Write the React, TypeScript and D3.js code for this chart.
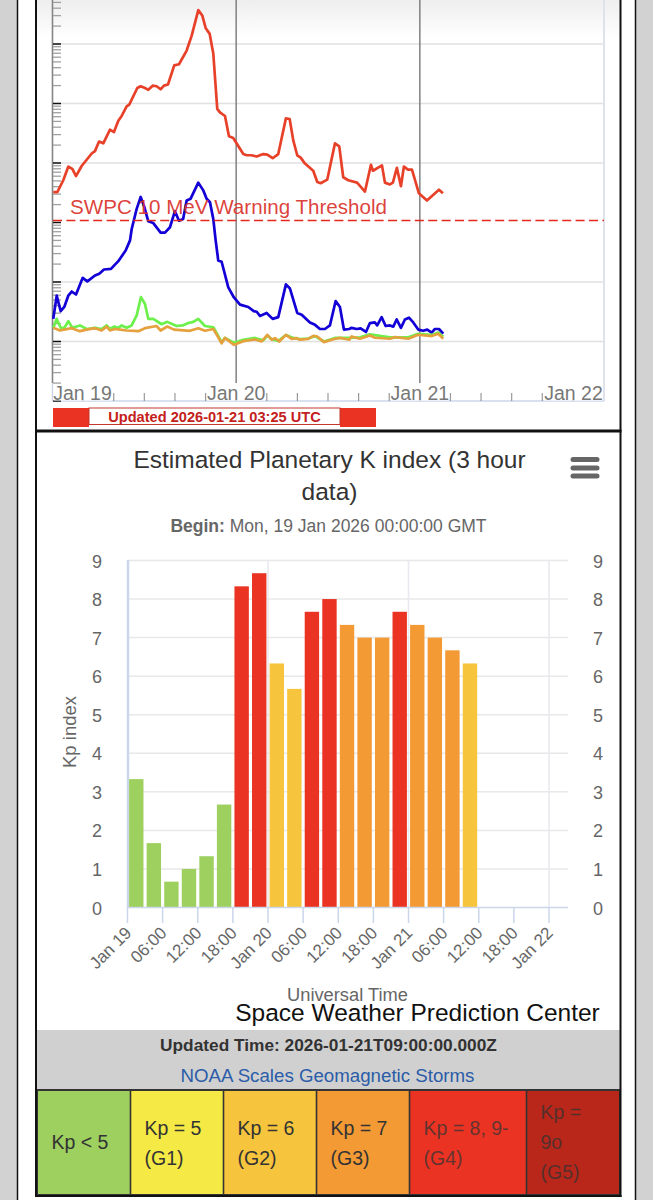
import React from "react";
import * as d3 from "d3";

// ---- Proton flux panel: hours since Jan 19 00:00 UTC, log10(pfu)
const redHours = [0.1,0.63,1.41,2.07,2.59,3.07,3.81,5.12,5.55,6.08,6.64,7.51,8.03,8.6,9.04,9.69,10.03,11.08,11.52,12.09,12.52,13.09,13.61,14.13,14.57,15.09,15.91,16.53,17.53,18.19,19.05,19.57,20.01,20.54,21.01,21.53,21.88,22.54,23.06,23.62,24.93,25.37,26.02,26.68,27.54,28.06,28.77,29.5,30.5,30.99,31.46,31.98,32.43,32.99,34.07,34.6,35.04,35.9,36.91,37.47,37.99,38.65,39.8,40.83,41.61,41.87,43.05,43.44,44.1,44.48,45.0,45.53,45.92,46.45,46.97,47.88,48.93,50.5,51.02];
const redLog = [1.51,1.51,1.71,1.94,1.9,1.78,1.95,2.16,2.2,2.36,2.33,2.56,2.52,2.71,2.79,2.95,2.98,3.26,3.29,3.26,3.23,3.3,3.29,3.24,3.3,3.32,3.64,3.66,3.89,4.14,4.57,4.48,4.27,4.17,3.84,2.91,2.85,2.79,2.45,2.42,2.15,2.13,2.13,2.11,2.15,2.14,2.08,2.15,2.75,2.74,2.38,2.13,2.09,1.99,1.87,1.68,1.66,1.72,2.33,2.28,1.76,1.71,1.67,1.52,1.97,1.87,1.96,1.67,1.64,1.67,1.92,1.61,1.94,1.89,1.89,1.49,1.37,1.55,1.49];

const blueHours = [0.1,0.55,1.07,1.54,2.06,2.51,3.07,3.95,4.55,5.55,6.11,6.73,7.64,8.6,9.56,10.13,10.35,11,11.52,12,12.52,13.17,14.13,14.7,15.35,16,16.53,17.07,17.53,18.05,19.05,19.7,20.14,20.58,21.01,21.32,21.66,22.1,22.97,23.71,24.5,25.58,26.3,26.68,27.11,27.98,28.77,29.5,30.5,31.03,31.98,32.56,33.64,34.3,34.95,35.6,36.25,37,37.56,38.08,38.77,39.09,39.74,40.26,40.96,41.48,42.13,42.43,43.01,43.53,44.1,44.53,44.97,45.53,46.05,46.58,47.14,47.79,48.44,48.97,49.54,49.97,50.5,51.06];
const blueLog = [-0.62,-0.23,-0.49,-0.42,-0.23,-0.16,-0.21,0.07,0.01,0.11,0.14,0.21,0.22,0.35,0.53,0.7,0.89,1.23,1.43,1.26,1.02,0.99,0.83,0.83,0.92,1.19,1.03,1.06,1.37,1.4,1.67,1.54,1.4,1.34,1.06,0.7,0.36,0.34,-0.09,-0.26,-0.38,-0.42,-0.49,-0.5,-0.57,-0.52,-0.62,-0.59,-0.04,-0.11,-0.52,-0.55,-0.68,-0.72,-0.79,-0.79,-0.73,-0.32,-0.42,-0.8,-0.79,-0.77,-0.79,-0.78,-0.84,-0.69,-0.68,-0.73,-0.59,-0.74,-0.73,-0.75,-0.63,-0.77,-0.63,-0.6,-0.68,-0.8,-0.82,-0.8,-0.85,-0.79,-0.79,-0.87];

const greenHours = [0.11,0.54,1.07,1.55,2.07,2.59,3.59,4.46,5.55,6.42,7.08,7.51,8.03,8.6,9.04,9.69,10.34,11,11.56,12.08,12.52,13.17,14.26,15,16.22,17,17.75,18.4,19.05,19.92,21.01,21.36,22.1,22.54,23.71,24.93,26.46,27.55,28.07,28.63,29.5,30.5,31.46,32.3,33.4,34.3,35.47,36.9,38.78,40.17,41.48,44.09,46.49,47.79,49.54,50.41,51.06];
const greenLog = [-0.77,-0.62,-0.77,-0.77,-0.66,-0.77,-0.73,-0.79,-0.77,-0.79,-0.73,-0.79,-0.75,-0.77,-0.73,-0.77,-0.73,-0.56,-0.255,-0.37,-0.62,-0.62,-0.71,-0.67,-0.74,-0.73,-0.69,-0.67,-0.62,-0.74,-0.76,-0.84,-1.01,-0.94,-1.02,-0.97,-0.94,-0.98,-0.9,-0.96,-0.99,-0.89,-0.94,-0.96,-0.95,-0.91,-1,-0.94,-0.94,-0.93,-0.88,-0.93,-0.93,-0.87,-0.89,-0.85,-0.92];

const orangeHours = [0.11,0.98,2.5,3.59,4.46,5.55,6.42,7.08,7.51,8.17,8.82,9.69,11.21,12.08,13.61,14.13,15,15.87,17.96,19.05,19.92,21.01,21.53,22.1,22.54,23.71,24.93,26.46,27.33,28.07,28.63,29.07,29.63,30.5,31.25,31.9,32.33,33.42,34.08,34.6,35.47,36.91,37.56,38.78,39.08,40.17,41.48,42.13,44.09,44.75,46.49,47.79,49.54,50.41,51.06];
const orangeLog = [-0.77,-0.815,-0.776,-0.826,-0.8,-0.776,-0.815,-0.75,-0.815,-0.79,-0.8,-0.815,-0.826,-0.776,-0.74,-0.815,-0.748,-0.8,-0.82,-0.776,-0.82,-0.79,-0.9,-1.03,-0.94,-1.056,-0.994,-0.966,-1,-0.888,-0.97,-0.944,-1,-0.888,-0.955,-0.944,-0.97,-0.955,-0.905,-0.916,-1.01,-0.955,-0.94,-0.97,-0.915,-0.954,-0.898,-0.937,-0.954,-0.926,-0.954,-0.887,-0.909,-0.87,-0.954];

const decades = [-2, -1, 0, 1, 2, 3, 4, 5];
const warningThreshold = 10.8;
const warningLabel = "SWPC 10 MeV Warning Threshold";
const protonDays = ["Jan 19", "Jan 20", "Jan 21", "Jan 22"];
const updatedLabel = "Updated 2026-01-21 03:25 UTC";

// ---- Kp panel
const kpValues = [3.33,1.67,0.67,1,1.33,2.67,8.33,8.67,6.33,5.67,7.67,8,7.33,7,7,7.67,7.33,7,6.67,6.33];
const kpTickLabels = ["Jan 19","06:00","12:00","18:00","Jan 20","06:00","12:00","18:00","Jan 21","06:00","12:00","18:00","Jan 22"];
const kpAxisTicks = [0,1,2,3,4,5,6,7,8,9];
const scaleCells = [
  { lines: ["Kp < 5"], fill: "#9dd05f", from: 38, to: 130 },
  { lines: ["Kp = 5", "(G1)"], fill: "#f5e945", from: 131, to: 223 },
  { lines: ["Kp = 6", "(G2)"], fill: "#f7c43d", from: 224, to: 316 },
  { lines: ["Kp = 7", "(G3)"], fill: "#f39a35", from: 317, to: 409 },
  { lines: ["Kp = 8, 9-", "(G4)"], fill: "#ea3323", from: 410, to: 526 },
  { lines: ["Kp =", "9o", "(G5)"], fill: "#b9261a", from: 527, to: 620 },
];

const FONT = "'Liberation Sans', Arial, sans-serif";

const xP = d3.scaleLinear().domain([0, 72]).range([52.5, 603.5]);
const yP = d3.scaleLog().domain([0.01, 10000]).range([401, 44]);

function protonPath(hours: number[], logs: number[]) {
  const pts = hours.map((h, i) => [h, Math.pow(10, logs[i])] as [number, number]);
  return d3.line<[number, number]>().x((d) => xP(d[0])).y((d) => yP(d[1]))(pts) as string;
}

const xK = d3.scaleLinear().domain([0, 72]).range([127.5, 549]);
const yK = d3.scaleLinear().domain([0, 9]).range([907.5, 560.5]);

function kpColor(v: number) {
  if (v < 5) return "#9dd05f";
  if (v < 6.5) return "#f7c43d";
  if (v < 7.5) return "#f39a35";
  return "#ea3323";
}

export default function App() {
  const minor: { y: number; major: boolean }[] = [];
  decades.forEach((d) => {
    const base = Math.pow(10, d);
    [1,2,3,4,5,6,7,8,9].forEach((m) => {
      const y = yP(base * m);
      if (y >= -2 && y <= 402) minor.push({ y, major: m === 1 });
    });
  });
  const hourTicks = d3.range(4, 72, 4);
  return (
    <svg width={653} height={1200} viewBox="0 0 653 1200" style={{ position: "absolute", left: 0, top: 0, fontFamily: FONT }}>
      <defs>
        <linearGradient id="topFade" x1="0" y1="0" x2="0" y2="1">
          <stop offset="0" stopColor="#eeeeee" />
          <stop offset="1" stopColor="#ffffff" />
        </linearGradient>
      </defs>
      <rect width={653} height={1200} fill="#ffffff" />
      <rect x={0} y={0} width={17} height={1200} fill="#d2d2d2" />
      <rect x={636} y={0} width={17} height={1200} fill="#d2d2d2" />
      <rect x={37} y={0} width={583} height={38} fill="url(#topFade)" />

      {/* proton panel */}
      {decades.filter((d) => d !== 1 && d > -2 && d < 5).map((d) => (
        <line key={d} x1={53} x2={604} y1={yP(Math.pow(10, d))} y2={yP(Math.pow(10, d))} stroke="#e0e0e0" strokeWidth={1.5} />
      ))}
      <line x1={604} x2={604} y1={0} y2={401} stroke="#dfe2ea" strokeWidth={2} />
      <line x1={52.5} x2={604} y1={401} y2={401} stroke="#ccd6eb" strokeWidth={1.5} />
      <line x1={52.5} x2={52.5} y1={0} y2={383} stroke="#858585" strokeWidth={1.6} />
      <line x1={52.5} x2={52.5} y1={383} y2={401} stroke="#ccd6eb" strokeWidth={1.5} />
      {minor.filter((t) => !t.major).map((t, i) => (
        <line key={i} x1={53} x2={61} y1={t.y} y2={t.y} stroke="#a0a0a0" strokeWidth={1.3} />
      ))}
      {minor.filter((t) => t.major).map((t, i) => (
        <line key={i} x1={53} x2={61} y1={t.y} y2={t.y} stroke="#111111" strokeWidth={1.5} />
      ))}
      {[24, 48].map((h) => (
        <line key={h} x1={xP(h)} x2={xP(h)} y1={0} y2={383} stroke="#808080" strokeWidth={1.5} />
      ))}
      {hourTicks.map((h) => (
        <line key={h} x1={xP(h)} x2={xP(h)} y1={393} y2={401} stroke="#999999" strokeWidth={1.2} />
      ))}
      {protonDays.map((d, i) => {
        const h = i * 24;
        const x = i === 0 ? xP(h) + 30 : i === 3 ? xP(h) - 30 : xP(h);
        return (
          <g key={d}>
            <rect x={x - 29} y={384} width={58} height={16.5} fill="#ffffff" />
            <text x={x} y={400} textAnchor="middle" fontSize={19.5} fill="#777777">{d}</text>
          </g>
        );
      })}
      <path d={protonPath(redHours, redLog)} fill="none" stroke="#e8412a" strokeWidth={2.7} strokeLinejoin="round" />
      <path d={protonPath(blueHours, blueLog)} fill="none" stroke="#1200d6" strokeWidth={2.7} strokeLinejoin="round" />
      <path d={protonPath(greenHours, greenLog)} fill="none" stroke="#6cf04c" strokeWidth={2.7} strokeLinejoin="round" />
      <path d={protonPath(orangeHours, orangeLog)} fill="none" stroke="#e5a13e" strokeWidth={2.7} strokeLinejoin="round" />
      <line x1={53} x2={604} y1={yP(warningThreshold)} y2={yP(warningThreshold)} stroke="#e5281e" strokeWidth={1.6} strokeDasharray="9 4.4" />
      <text x={70} y={214} fontSize={20.6} fill="#d9302a" fillOpacity={0.92}>{warningLabel}</text>

      {/* updated strip */}
      <rect x={53} y={408} width={36} height={19} fill="#ea3323" />
      <rect x={340} y={408} width={36} height={19} fill="#ea3323" />
      <rect x={89} y={408} width={251} height={16.5} fill="#ffffff" stroke="#c0392b" strokeWidth={1} />
      <text x={214.5} y={422} textAnchor="middle" fontSize={14.6} fontWeight={700} fill="#c4201c">{updatedLabel}</text>

      {/* Kp panel */}
      <text x={329.5} y={468} textAnchor="middle" fontSize={24.5} fill="#333333">Estimated Planetary K index (3 hour</text>
      <text x={329.5} y={500} textAnchor="middle" fontSize={24.5} fill="#333333">data)</text>
      <text x={328.5} y={532} textAnchor="middle" fontSize={17.5} fill="#666666">
        <tspan fontWeight={700}>Begin:</tspan> Mon, 19 Jan 2026 00:00:00 GMT
      </text>
      {[459.5, 468, 476].map((y) => (
        <line key={y} x1={573} x2={597} y1={y} y2={y} stroke="#666666" strokeWidth={5} strokeLinecap="round" />
      ))}

      {kpAxisTicks.filter((t) => t > 0).map((t) => (
        <line key={t} x1={128} x2={568} y1={yK(t)} y2={yK(t)} stroke="#e8e8e8" strokeWidth={1.5} />
      ))}
      {[24, 48, 72].map((h) => (
        <line key={h} x1={xK(h)} x2={xK(h)} y1={560} y2={907} stroke="#e8e8ee" strokeWidth={1.5} />
      ))}
      <line x1={128} x2={128} y1={560} y2={908} stroke="#ccd6eb" strokeWidth={2.5} />
      {kpValues.map((v, i) => {
        const c = xK(i * 3 + 1.5);
        return <rect key={i} x={c - 7.2} y={yK(v)} width={14.4} height={yK(0) - yK(v)} fill={kpColor(v)} />;
      })}
      <line x1={127.5} x2={568} y1={907.5} y2={907.5} stroke="#ccd6eb" strokeWidth={1.5} />
      {kpTickLabels.map((l, i) => {
        const x = xK(i * 6);
        return (
          <g key={i}>
            <line x1={x} x2={x} y1={907.5} y2={923} stroke="#ccd6eb" strokeWidth={1.5} />
            <text transform={`translate(${x + 5},${934}) rotate(-45)`} textAnchor="end" fontSize={17} fill="#666666">{l}</text>
          </g>
        );
      })}
      {kpAxisTicks.map((t) => (
        <g key={t}>
          <text x={97} y={yK(t) + 7} textAnchor="middle" fontSize={18} fill="#666666">{t}</text>
          <text x={598} y={yK(t) + 7} textAnchor="middle" fontSize={18} fill="#666666">{t}</text>
        </g>
      ))}
      <text transform="translate(76,732) rotate(-90)" textAnchor="middle" fontSize={18.5} fill="#666666">Kp index</text>
      <text x={347.5} y={1001} textAnchor="middle" fontSize={18.3} fill="#666666">Universal Time</text>
      <text x={417.5} y={1021} textAnchor="middle" fontSize={24.5} fill="#111111">Space Weather Prediction Center</text>

      {/* status header + scale table */}
      <rect x={37} y={1030} width={583} height={60} fill="#d0d0d0" />
      <text x={328.5} y={1051} textAnchor="middle" fontSize={17.3} fontWeight={700} fill="#333333">Updated Time: 2026-01-21T09:00:00.000Z</text>
      <text x={327.5} y={1082} textAnchor="middle" fontSize={18.7} fill="#2a5ca8">NOAA Scales Geomagnetic Storms</text>
      {scaleCells.map((c, i) => {
        const n = c.lines.length;
        const first = 1149 - ((n - 1) * 30) / 2 + (n === 2 ? 1 : 0);
        return (
          <g key={i}>
            <rect x={c.from} y={1091} width={c.to - c.from} height={103} fill={c.fill} />
            {c.lines.map((ln, j) => (
              <text key={j} x={c.from + 13.5} y={first + j * 30} fontSize={19.5} fill="#333333" fillOpacity={i > 3 ? 0.75 : 1}>{ln}</text>
            ))}
          </g>
        );
      })}
      {[130.5, 223.5, 316.5, 409.5, 526.5].map((x) => (
        <line key={x} x1={x} x2={x} y1={1090} y2={1195} stroke="#333333" strokeWidth={1.6} />
      ))}
      <rect x={37} y={1090} width={583} height={105} fill="none" stroke="#333333" strokeWidth={2} />

      {/* frame */}
      <line x1={17.5} x2={17.5} y1={0} y2={1200} stroke="#111111" strokeWidth={1.5} />
      <line x1={635.5} x2={635.5} y1={0} y2={1200} stroke="#111111" strokeWidth={1.5} />
      <line x1={36} x2={36} y1={0} y2={1197} stroke="#111111" strokeWidth={2} />
      <line x1={620.5} x2={620.5} y1={0} y2={1197} stroke="#111111" strokeWidth={2} />
      <line x1={35} x2={621.5} y1={431} y2={431} stroke="#111111" strokeWidth={3} />
      <line x1={35} x2={621.5} y1={1196} y2={1196} stroke="#111111" strokeWidth={2} />
    </svg>
  );
}
